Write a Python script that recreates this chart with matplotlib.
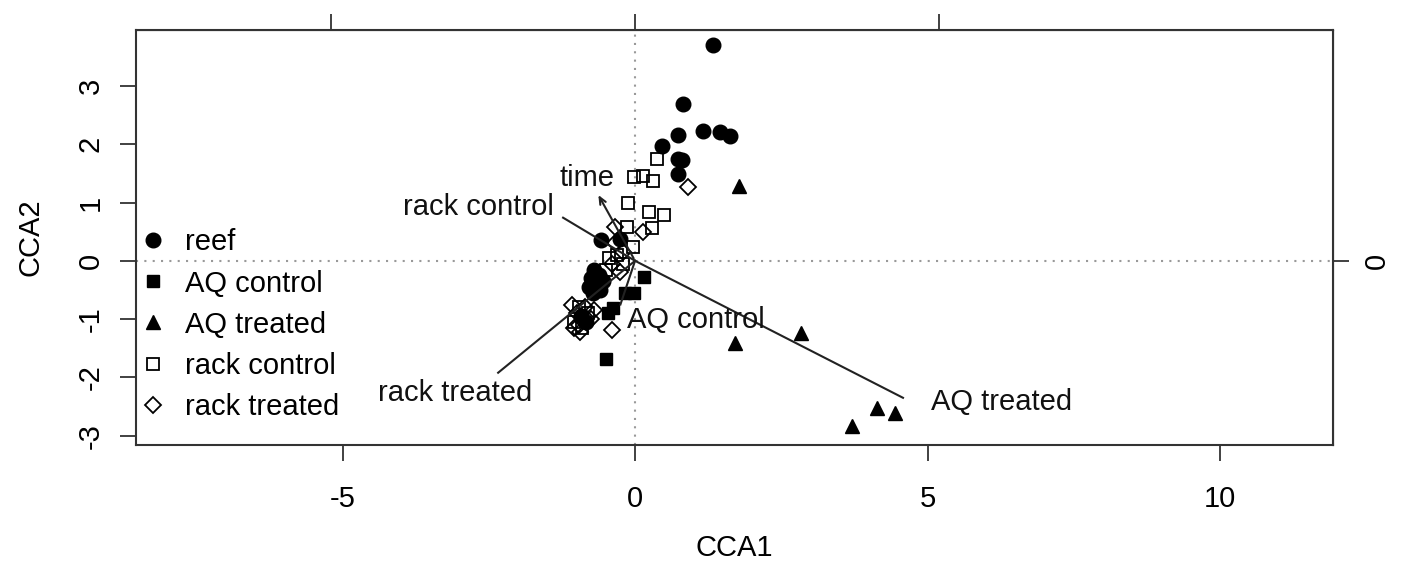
import matplotlib
matplotlib.use("Agg")
import matplotlib.pyplot as plt

plt.rcParams['font.family'] = ['Liberation Sans', 'DejaVu Sans']

# ---- data ----
reef_x = [1.33, 0.82, 0.73, 1.16, 1.45, 1.62, 0.46, 0.73, 0.80, 0.73,
          -0.58, -0.26, -0.70, -0.62, -0.75, -0.55, -0.68, -0.78, -0.60, -0.72,
          -0.92, -0.84]
reef_y = [3.70, 2.69, 2.16, 2.23, 2.21, 2.14, 1.97, 1.75, 1.73, 1.49,
          0.36, 0.37, -0.15, -0.25, -0.30, -0.35, -0.42, -0.45, -0.50, -0.55,
          -0.95, -1.05]

aqc_x = [0.15, -0.17, -0.02, -0.37, -0.46, -0.50]
aqc_y = [-0.27, -0.55, -0.55, -0.81, -0.89, -1.68]

aqt_x = [1.78, 1.71, 2.84, 4.13, 4.44, 3.71]
aqt_y = [1.29, -1.41, -1.24, -2.52, -2.61, -2.83]

rc_x = [0.38, -0.02, 0.14, 0.31, -0.12, 0.24, 0.50, -0.14, 0.29, -0.03,
        -0.30, -0.45, -0.20, -0.50, -0.95, -0.80, -1.05, -0.90]
rc_y = [1.75, 1.44, 1.46, 1.37, 0.99, 0.84, 0.79, 0.58, 0.57, 0.24,
        0.10, 0.05, -0.05, -0.15, -0.80, -0.90, -1.05, -1.15]

rt_x = [0.91, -0.34, 0.14, -0.39, -0.35, -0.20, -0.40, -0.25,
        -1.08, -0.94, -1.00, -0.85, -0.75, -0.95, -0.70, -1.05]
rt_y = [1.27, 0.58, 0.50, -1.18, 0.30, 0.15, -0.05, -0.20,
        -0.75, -1.22, -0.90, -0.80, -1.00, -1.10, -0.85, -1.15]

arrow_names = ["time", "rack control", "AQ control", "AQ treated", "rack treated"]
arrow_x = [-0.65, -1.23, -0.25, 4.58, -2.34]
arrow_y = [1.17, 0.74, -0.75, -2.35, -1.92]
label_x = [-0.82, -2.68, 1.04, 6.26, -3.08]
label_y = [1.42, 0.93, -1.01, -2.43, -2.26]

xticks = [-5, 0, 5, 10]
yticks = [-3, -2, -1, 0, 1, 2, 3]
top_ticks = [-1, 0, 1]
top_scale = 5.19

FS = 21
fig = plt.figure(figsize=(14.03, 5.65), dpi=100)
ax = fig.add_axes([136/1403, 1-445/565, (1333-136)/1403, (445-30)/565])
ax.set_xlim(-8.53, 11.93)
ax.set_ylim(-3.16, 3.96)

dot = dict(color='#999999', lw=1.5, ls=(0, (1, 3)), zorder=1)
ax.axhline(0, **dot)
ax.axvline(0, **dot)

ax.plot(reef_x, reef_y, 'o', ms=10.5, color='black', ls='none', label='reef', zorder=3)
ax.plot(aqc_x, aqc_y, 's', ms=8, color='black', ls='none', label='AQ control', zorder=3)
ax.plot(aqt_x, aqt_y, '^', ms=10.5, color='black', ls='none', label='AQ treated', zorder=3)
ax.plot(rc_x, rc_y, 's', ms=8.5, mfc='none', mec='black', mew=1.3, ls='none',
        label='rack control', zorder=3)
ax.plot(rt_x, rt_y, 'D', ms=8.5, mfc='none', mec='black', mew=1.3, ls='none',
        label='rack treated', zorder=3)

for name, x, y, lx, ly in zip(arrow_names, arrow_x, arrow_y, label_x, label_y):
    if name == "time":
        ax.annotate("", xy=(x, y), xytext=(0, 0),
                    arrowprops=dict(arrowstyle='->,head_length=0.5,head_width=0.22',
                                    color='#222222', lw=1.5), zorder=4)
    else:
        ax.plot([0, x], [0, y], color='#222222', lw=1.5, zorder=4)
    ax.text(lx, ly, name, fontsize=FS, ha='center', va='center', color='#111111', zorder=5)

ax.set_xticks(xticks)
ax.set_xticklabels([str(t) for t in xticks])
ax.set_yticks(yticks)
ax.set_yticklabels([str(t) for t in yticks], rotation=90, va='center')
ax.tick_params(axis='both', direction='out', length=11.5, width=1.3,
               labelsize=FS, color='#333333')
ax.tick_params(axis='x', pad=17)
ax.tick_params(axis='y', pad=11)
for s in ax.spines.values():
    s.set_linewidth(1.5)
    s.set_color('#333333')

sec_top = ax.secondary_xaxis('top', functions=(lambda v: v / top_scale, lambda v: v * top_scale))
sec_top.set_xticks(top_ticks)
sec_top.set_xticklabels(['' for _ in top_ticks])
sec_top.tick_params(direction='out', length=11.5, width=1.3, color='#333333')

sec_right = ax.secondary_yaxis('right')
sec_right.set_yticks([0])
sec_right.set_yticklabels(['0'], rotation=90, va='center')
sec_right.tick_params(direction='out', length=11.5, width=1.3, labelsize=FS,
                      pad=10, color='#333333')

fig.text(734.5/1403, 1-548/565, "CCA1", fontsize=FS, ha='center', va='center')
fig.text(30/1403, 1-237.5/565, "CCA2", fontsize=FS, ha='center', va='center', rotation=90)

ax.legend(loc='center left', bbox_to_anchor=(0.002, 0.29), frameon=False,
          fontsize=FS, handlelength=1.0, handletextpad=0.6, labelspacing=0.45,
          borderpad=0, borderaxespad=0, numpoints=1)

fig.savefig("out.png", dpi=100)
